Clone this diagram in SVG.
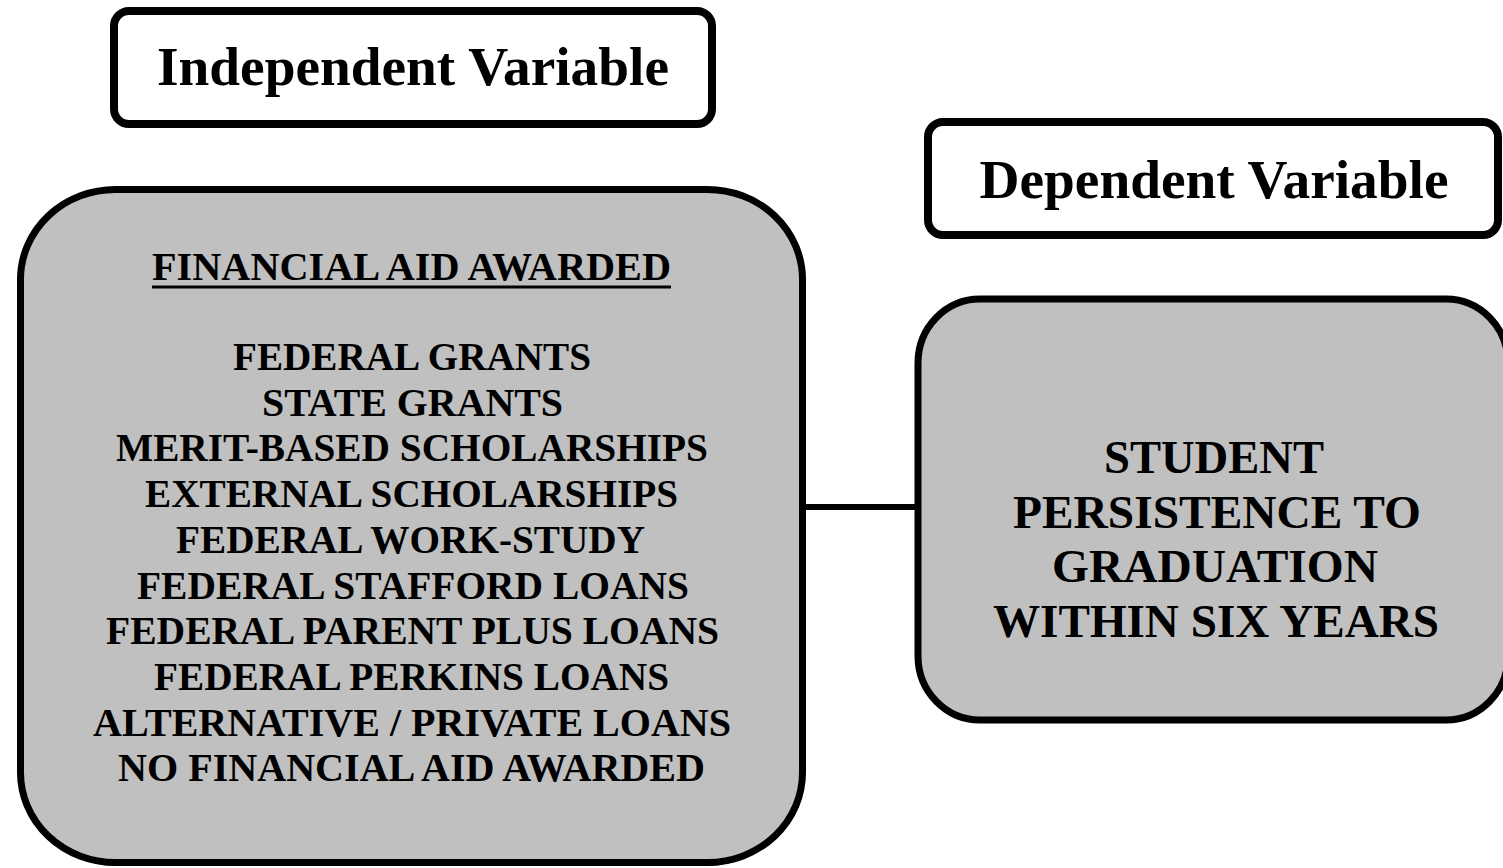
<svg xmlns="http://www.w3.org/2000/svg" width="1503" height="868" viewBox="0 0 1503 868">
  <style>
    .label-box { fill: #ffffff; stroke: #000000; stroke-width: 8; }
    .var-box { fill: #c0c0c0; stroke: #000000; stroke-width: 7; }
    .shadow { fill: #000000; }
    .head { font-family: "Liberation Serif", "Times New Roman", serif; font-weight: bold; font-size: 54px; fill: #000000; text-anchor: middle; }
    .item { font-family: "Liberation Serif", "Times New Roman", serif; font-weight: bold; font-size: 39px; fill: #000000; text-anchor: middle; }
    .outcome { font-family: "Liberation Serif", "Times New Roman", serif; font-weight: bold; font-size: 47px; fill: #000000; text-anchor: middle; }
    .link { stroke: #000000; stroke-width: 6; fill: none; }
  </style>

  <rect width="1503" height="868" fill="#ffffff"/>

  <!-- heading labels -->
  <g id="independent-label">
    <rect class="label-box" x="114" y="11" width="598" height="113" rx="15" ry="15"/>
    <text class="head" x="413" y="85" textLength="512" lengthAdjust="spacingAndGlyphs">Independent Variable</text>
  </g>

  <g id="dependent-label">
    <rect class="label-box" x="928" y="122" width="570" height="113" rx="15" ry="15"/>
    <text class="head" x="1214" y="198" textLength="469" lengthAdjust="spacingAndGlyphs">Dependent Variable</text>
  </g>

  <!-- connector between the two variable boxes -->
  <g id="connectors">
    <line class="link" x1="805" y1="507" x2="917" y2="507"/>
  </g>

  <!-- independent variable: financial aid types -->
  <g id="financial-aid">
    <rect class="shadow" x="20.5" y="192.5" width="782" height="673" rx="95" ry="90"/>
    <rect class="var-box" x="20.5" y="189.5" width="782" height="673" rx="95" ry="90"/>
    <text class="item" x="411.5" y="280" textLength="519" lengthAdjust="spacingAndGlyphs">FINANCIAL AID AWARDED</text>
    <line x1="152" y1="287" x2="671" y2="287" stroke="#000000" stroke-width="3"/>
    <text class="item" x="412" y="370" textLength="358" lengthAdjust="spacingAndGlyphs">FEDERAL GRANTS</text>
    <text class="item" x="412.5" y="415.7" textLength="301" lengthAdjust="spacingAndGlyphs">STATE GRANTS</text>
    <text class="item" x="412" y="461.4" textLength="592" lengthAdjust="spacingAndGlyphs">MERIT-BASED SCHOLARSHIPS</text>
    <text class="item" x="411.5" y="507.1" textLength="533" lengthAdjust="spacingAndGlyphs">EXTERNAL SCHOLARSHIPS</text>
    <text class="item" x="410.5" y="552.8" textLength="469" lengthAdjust="spacingAndGlyphs">FEDERAL WORK-STUDY</text>
    <text class="item" x="413" y="598.5" textLength="552" lengthAdjust="spacingAndGlyphs">FEDERAL STAFFORD LOANS</text>
    <text class="item" x="412.5" y="644.2" textLength="613" lengthAdjust="spacingAndGlyphs">FEDERAL PARENT PLUS LOANS</text>
    <text class="item" x="411.5" y="689.9" textLength="515" lengthAdjust="spacingAndGlyphs">FEDERAL PERKINS LOANS</text>
    <text class="item" x="412" y="735.6" textLength="638" lengthAdjust="spacingAndGlyphs">ALTERNATIVE / PRIVATE LOANS</text>
    <text class="item" x="411.5" y="781.3" textLength="587" lengthAdjust="spacingAndGlyphs">NO FINANCIAL AID AWARDED</text>
  </g>

  <!-- dependent variable: persistence outcome -->
  <g id="persistence">
    <rect class="shadow" x="918" y="302" width="590" height="421" rx="62" ry="64"/>
    <rect class="var-box" x="918" y="299" width="590" height="421" rx="62" ry="64"/>
    <text class="outcome" x="1214" y="473" textLength="220" lengthAdjust="spacingAndGlyphs">STUDENT</text>
    <text class="outcome" x="1217" y="528" textLength="408" lengthAdjust="spacingAndGlyphs">PERSISTENCE TO</text>
    <text class="outcome" x="1215" y="582" textLength="326" lengthAdjust="spacingAndGlyphs">GRADUATION</text>
    <text class="outcome" x="1216" y="637" textLength="446" lengthAdjust="spacingAndGlyphs">WITHIN SIX YEARS</text>
  </g>
</svg>
